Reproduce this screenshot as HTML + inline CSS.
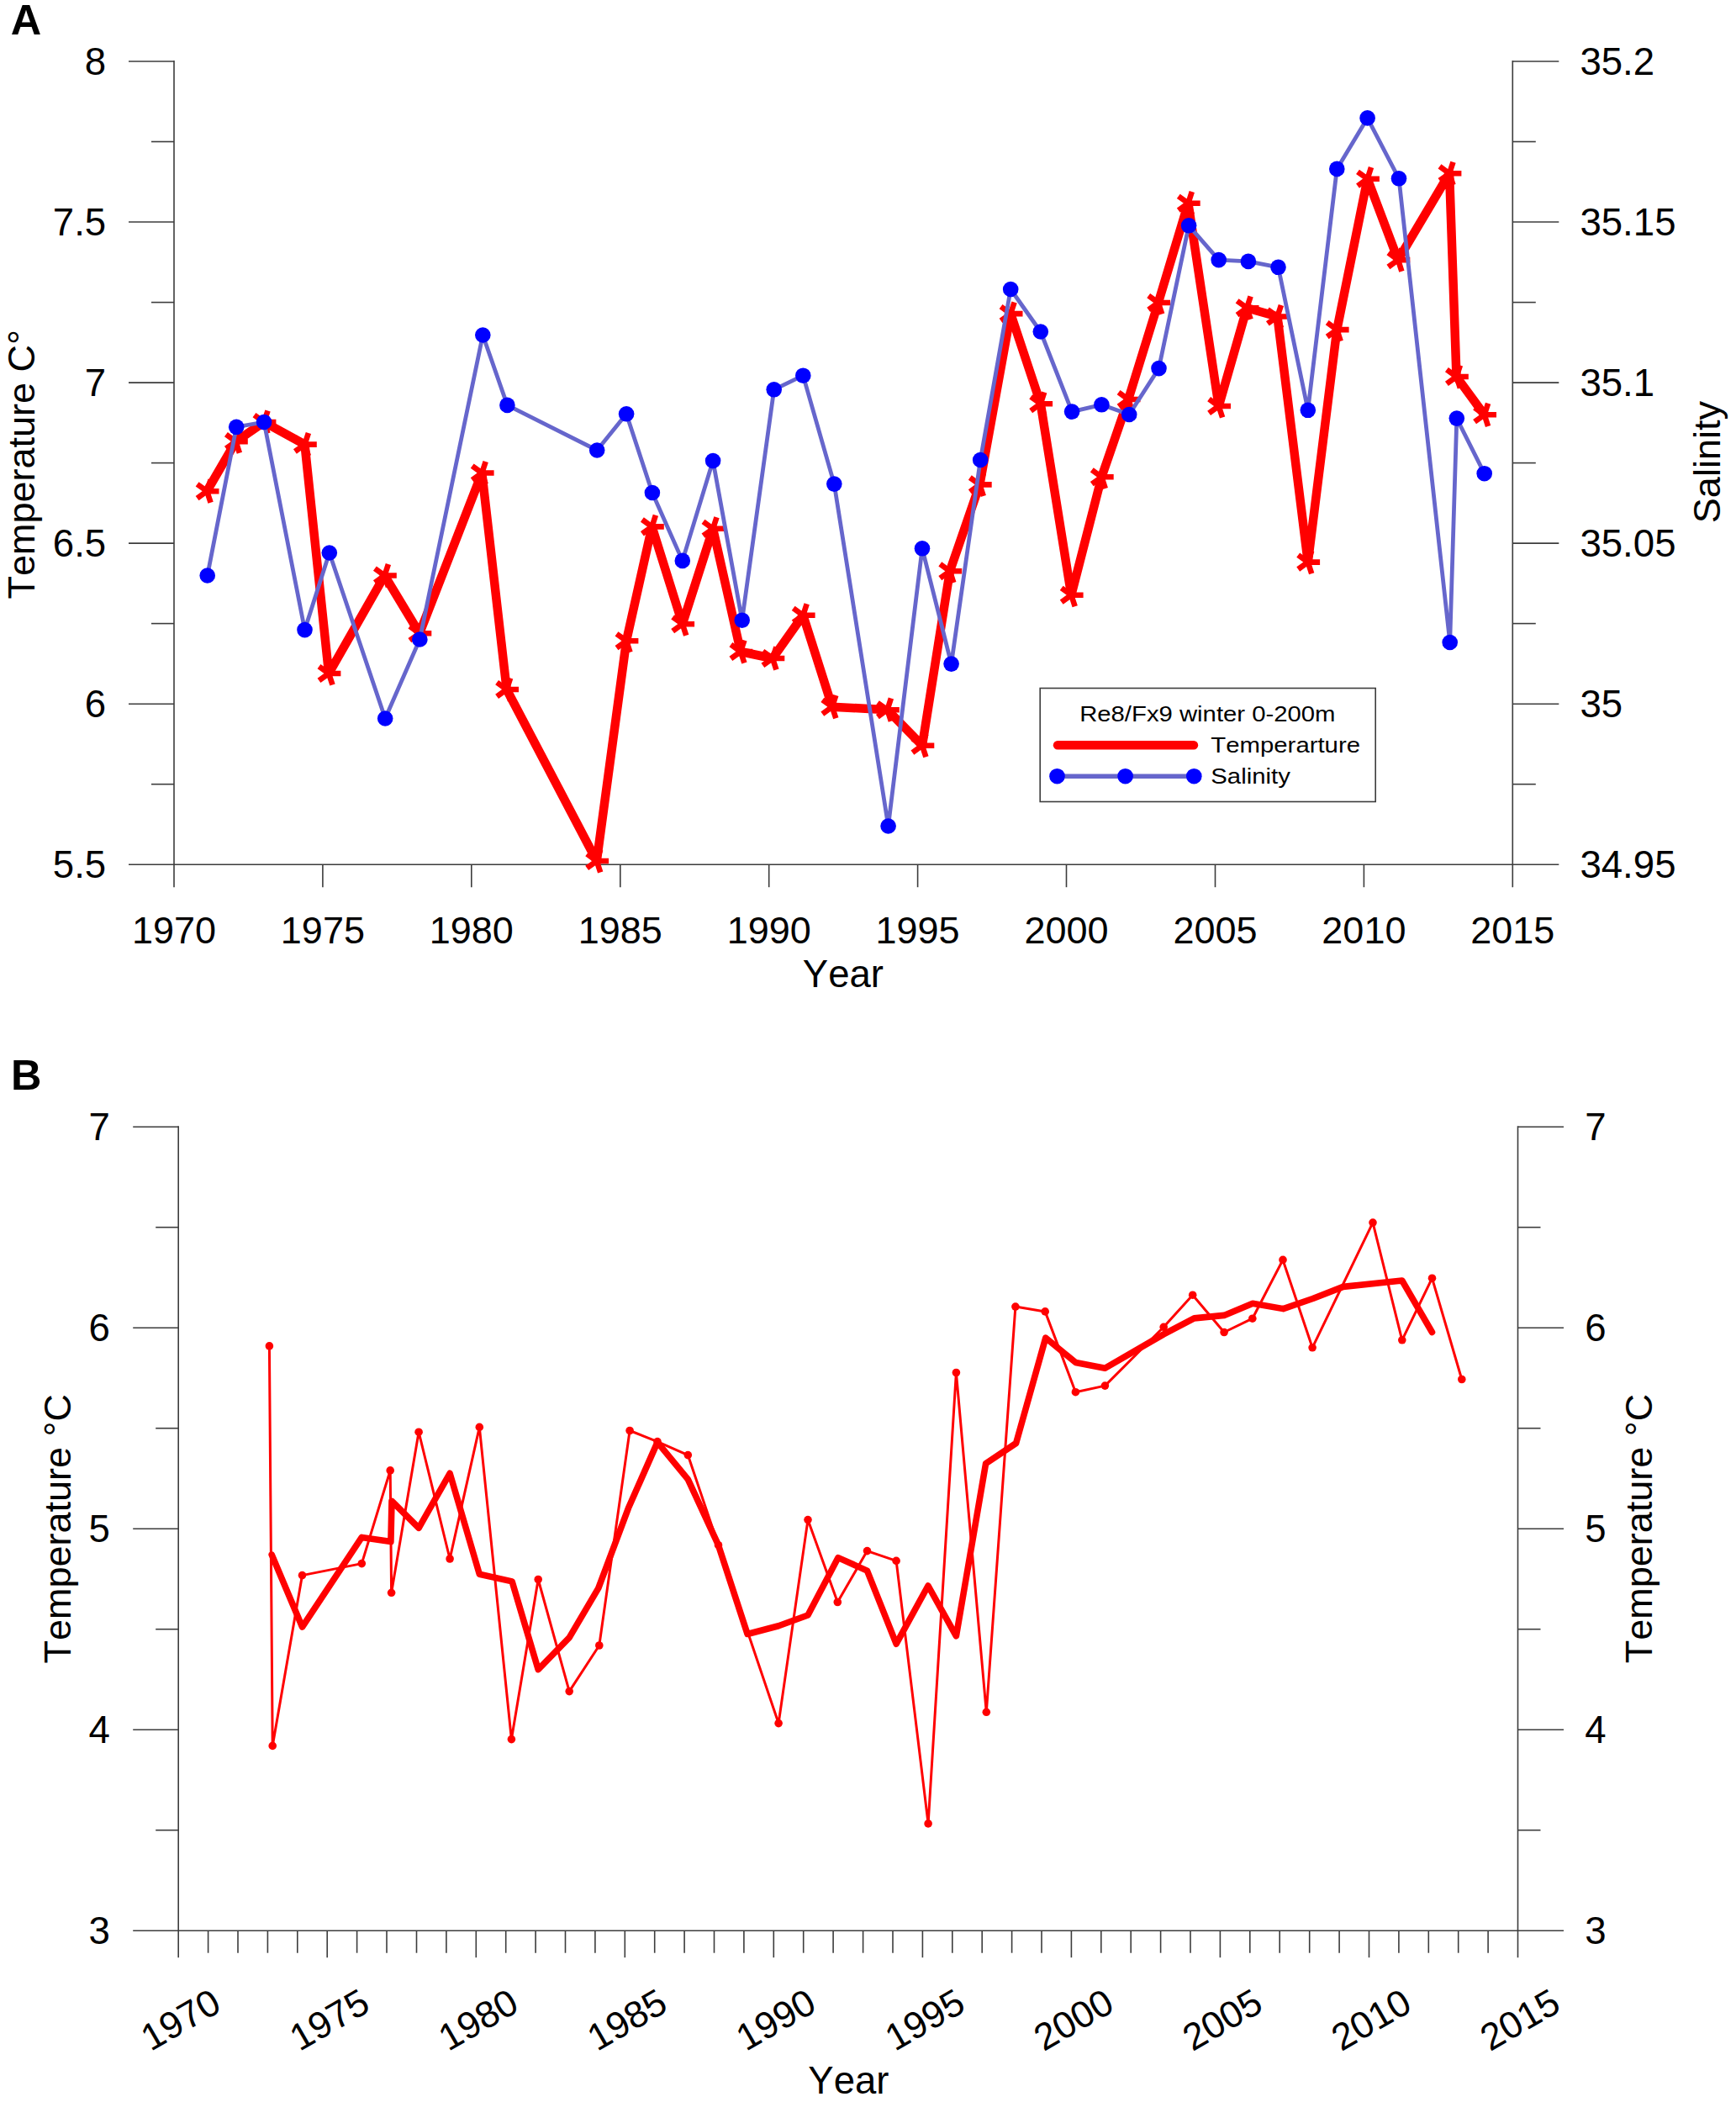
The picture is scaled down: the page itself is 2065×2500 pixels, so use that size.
<!DOCTYPE html>
<html><head><meta charset="utf-8"><title>Figure</title>
<style>
html,body{margin:0;padding:0;background:#fff;}
svg{display:block;}
text{font-family:"Liberation Sans", Arial, Helvetica, sans-serif;fill:#000;font-kerning:none;}
</style></head>
<body>
<svg width="2065" height="2500" viewBox="0 0 2065 2500">
<rect width="2065" height="2500" fill="#fff"/>
<line x1="207.0" y1="72.0" x2="207.0" y2="1055.2" stroke="#3c3c3c" stroke-width="1.6" />
<line x1="1799.3" y1="72.0" x2="1799.3" y2="1055.2" stroke="#3c3c3c" stroke-width="1.6" />
<line x1="153.0" y1="1028.2" x2="1854.3" y2="1028.2" stroke="#3c3c3c" stroke-width="1.6" />
<line x1="153.0" y1="73.0" x2="207.0" y2="73.0" stroke="#3c3c3c" stroke-width="1.6" />
<line x1="1799.3" y1="73.0" x2="1854.3" y2="73.0" stroke="#3c3c3c" stroke-width="1.6" />
<line x1="180.0" y1="168.5" x2="207.0" y2="168.5" stroke="#3c3c3c" stroke-width="1.6" />
<line x1="1799.3" y1="168.5" x2="1826.8" y2="168.5" stroke="#3c3c3c" stroke-width="1.6" />
<text x="126.2" y="89.0" font-size="45.6" text-anchor="end" font-weight="normal" >8</text>
<text x="1879.4" y="89.0" font-size="45.6" text-anchor="start" font-weight="normal" >35.2</text>
<line x1="153.0" y1="264.0" x2="207.0" y2="264.0" stroke="#3c3c3c" stroke-width="1.6" />
<line x1="1799.3" y1="264.0" x2="1854.3" y2="264.0" stroke="#3c3c3c" stroke-width="1.6" />
<line x1="180.0" y1="359.6" x2="207.0" y2="359.6" stroke="#3c3c3c" stroke-width="1.6" />
<line x1="1799.3" y1="359.6" x2="1826.8" y2="359.6" stroke="#3c3c3c" stroke-width="1.6" />
<text x="126.2" y="280.0" font-size="45.6" text-anchor="end" font-weight="normal" >7.5</text>
<text x="1879.4" y="280.0" font-size="45.6" text-anchor="start" font-weight="normal" >35.15</text>
<line x1="153.0" y1="455.1" x2="207.0" y2="455.1" stroke="#3c3c3c" stroke-width="1.6" />
<line x1="1799.3" y1="455.1" x2="1854.3" y2="455.1" stroke="#3c3c3c" stroke-width="1.6" />
<line x1="180.0" y1="550.6" x2="207.0" y2="550.6" stroke="#3c3c3c" stroke-width="1.6" />
<line x1="1799.3" y1="550.6" x2="1826.8" y2="550.6" stroke="#3c3c3c" stroke-width="1.6" />
<text x="126.2" y="471.1" font-size="45.6" text-anchor="end" font-weight="normal" >7</text>
<text x="1879.4" y="471.1" font-size="45.6" text-anchor="start" font-weight="normal" >35.1</text>
<line x1="153.0" y1="646.1" x2="207.0" y2="646.1" stroke="#3c3c3c" stroke-width="1.6" />
<line x1="1799.3" y1="646.1" x2="1854.3" y2="646.1" stroke="#3c3c3c" stroke-width="1.6" />
<line x1="180.0" y1="741.6" x2="207.0" y2="741.6" stroke="#3c3c3c" stroke-width="1.6" />
<line x1="1799.3" y1="741.6" x2="1826.8" y2="741.6" stroke="#3c3c3c" stroke-width="1.6" />
<text x="126.2" y="662.1" font-size="45.6" text-anchor="end" font-weight="normal" >6.5</text>
<text x="1879.4" y="662.1" font-size="45.6" text-anchor="start" font-weight="normal" >35.05</text>
<line x1="153.0" y1="837.2" x2="207.0" y2="837.2" stroke="#3c3c3c" stroke-width="1.6" />
<line x1="1799.3" y1="837.2" x2="1854.3" y2="837.2" stroke="#3c3c3c" stroke-width="1.6" />
<line x1="180.0" y1="932.7" x2="207.0" y2="932.7" stroke="#3c3c3c" stroke-width="1.6" />
<line x1="1799.3" y1="932.7" x2="1826.8" y2="932.7" stroke="#3c3c3c" stroke-width="1.6" />
<text x="126.2" y="853.2" font-size="45.6" text-anchor="end" font-weight="normal" >6</text>
<text x="1879.4" y="853.2" font-size="45.6" text-anchor="start" font-weight="normal" >35</text>
<text x="126.2" y="1044.2" font-size="45.6" text-anchor="end" font-weight="normal" >5.5</text>
<text x="1879.4" y="1044.2" font-size="45.6" text-anchor="start" font-weight="normal" >34.95</text>
<text x="207.0" y="1122.3" font-size="45" text-anchor="middle" font-weight="normal" >1970</text>
<line x1="383.9" y1="1028.2" x2="383.9" y2="1055.2" stroke="#3c3c3c" stroke-width="1.6" />
<text x="383.9" y="1122.3" font-size="45" text-anchor="middle" font-weight="normal" >1975</text>
<line x1="560.8" y1="1028.2" x2="560.8" y2="1055.2" stroke="#3c3c3c" stroke-width="1.6" />
<text x="560.8" y="1122.3" font-size="45" text-anchor="middle" font-weight="normal" >1980</text>
<line x1="737.8" y1="1028.2" x2="737.8" y2="1055.2" stroke="#3c3c3c" stroke-width="1.6" />
<text x="737.8" y="1122.3" font-size="45" text-anchor="middle" font-weight="normal" >1985</text>
<line x1="914.7" y1="1028.2" x2="914.7" y2="1055.2" stroke="#3c3c3c" stroke-width="1.6" />
<text x="914.7" y="1122.3" font-size="45" text-anchor="middle" font-weight="normal" >1990</text>
<line x1="1091.6" y1="1028.2" x2="1091.6" y2="1055.2" stroke="#3c3c3c" stroke-width="1.6" />
<text x="1091.6" y="1122.3" font-size="45" text-anchor="middle" font-weight="normal" >1995</text>
<line x1="1268.5" y1="1028.2" x2="1268.5" y2="1055.2" stroke="#3c3c3c" stroke-width="1.6" />
<text x="1268.5" y="1122.3" font-size="45" text-anchor="middle" font-weight="normal" >2000</text>
<line x1="1445.5" y1="1028.2" x2="1445.5" y2="1055.2" stroke="#3c3c3c" stroke-width="1.6" />
<text x="1445.5" y="1122.3" font-size="45" text-anchor="middle" font-weight="normal" >2005</text>
<line x1="1622.4" y1="1028.2" x2="1622.4" y2="1055.2" stroke="#3c3c3c" stroke-width="1.6" />
<text x="1622.4" y="1122.3" font-size="45" text-anchor="middle" font-weight="normal" >2010</text>
<text x="1799.3" y="1122.3" font-size="45" text-anchor="middle" font-weight="normal" >2015</text>
<text x="1002.9" y="1173.6" font-size="45.5" text-anchor="middle" font-weight="normal" >Year</text>
<text x="41.0" y="552.3" font-size="45" text-anchor="middle" font-weight="normal" transform="rotate(-90 41.0 552.3)" >Temperature C°</text>
<text x="2046.5" y="549.6" font-size="45" text-anchor="middle" font-weight="normal" transform="rotate(-90 2046.5 549.6)" >Salinity</text>
<text x="12.7" y="41.3" font-size="50.5" text-anchor="start" font-weight="bold" >A</text>
<polyline points="246.2,584.2 280.5,525.1 314.1,502.0 362.5,528.6 391.1,801.0 457.5,684.5 499.0,753.3 573.3,562.5 602.7,820.0 709.8,1024.0 745.1,762.2 775.5,626.4 811.8,742.2 848.1,628.8 881.0,775.0 919.0,783.0 955.3,731.8 989.9,840.7 1055.5,844.2 1097.0,886.7 1129.9,679.3 1165.4,576.4 1202.2,373.1 1237.8,480.2 1274.3,707.7 1310.4,567.3 1342.2,475.0 1377.8,360.0 1413.4,241.7 1449.7,483.0 1483.2,366.2 1519.5,376.5 1555.8,668.6 1590.3,392.1 1626.6,212.7 1663.0,309.1 1724.1,206.3 1732.5,448.0 1765.7,493.3" fill="none" stroke="#ff0000" stroke-width="10.5" stroke-linejoin="round" stroke-linecap="butt"/>
<path d="M246.2,584.2L260.5,584.2M246.2,584.2L250.6,597.8M246.2,584.2L234.6,592.6M246.2,584.2L234.6,575.8M246.2,584.2L250.6,570.6" stroke="#ff0000" stroke-width="6.6" fill="none"/>
<path d="M280.5,525.1L294.8,525.1M280.5,525.1L284.9,538.7M280.5,525.1L268.9,533.5M280.5,525.1L268.9,516.7M280.5,525.1L284.9,511.5" stroke="#ff0000" stroke-width="6.6" fill="none"/>
<path d="M314.1,502.0L328.4,502.0M314.1,502.0L318.5,515.6M314.1,502.0L302.5,510.4M314.1,502.0L302.5,493.6M314.1,502.0L318.5,488.4" stroke="#ff0000" stroke-width="6.6" fill="none"/>
<path d="M362.5,528.6L376.8,528.6M362.5,528.6L366.9,542.2M362.5,528.6L350.9,537.0M362.5,528.6L350.9,520.2M362.5,528.6L366.9,515.0" stroke="#ff0000" stroke-width="6.6" fill="none"/>
<path d="M391.1,801.0L405.4,801.0M391.1,801.0L395.5,814.6M391.1,801.0L379.5,809.4M391.1,801.0L379.5,792.6M391.1,801.0L395.5,787.4" stroke="#ff0000" stroke-width="6.6" fill="none"/>
<path d="M457.5,684.5L471.8,684.5M457.5,684.5L461.9,698.1M457.5,684.5L445.9,692.9M457.5,684.5L445.9,676.1M457.5,684.5L461.9,670.9" stroke="#ff0000" stroke-width="6.6" fill="none"/>
<path d="M499.0,753.3L513.3,753.3M499.0,753.3L503.4,766.9M499.0,753.3L487.4,761.7M499.0,753.3L487.4,744.9M499.0,753.3L503.4,739.7" stroke="#ff0000" stroke-width="6.6" fill="none"/>
<path d="M573.3,562.5L587.6,562.5M573.3,562.5L577.7,576.1M573.3,562.5L561.7,570.9M573.3,562.5L561.7,554.1M573.3,562.5L577.7,548.9" stroke="#ff0000" stroke-width="6.6" fill="none"/>
<path d="M602.7,820.0L617.0,820.0M602.7,820.0L607.1,833.6M602.7,820.0L591.1,828.4M602.7,820.0L591.1,811.6M602.7,820.0L607.1,806.4" stroke="#ff0000" stroke-width="6.6" fill="none"/>
<path d="M709.8,1024.0L724.1,1024.0M709.8,1024.0L714.2,1037.6M709.8,1024.0L698.2,1032.4M709.8,1024.0L698.2,1015.6M709.8,1024.0L714.2,1010.4" stroke="#ff0000" stroke-width="6.6" fill="none"/>
<path d="M745.1,762.2L759.4,762.2M745.1,762.2L749.5,775.8M745.1,762.2L733.5,770.6M745.1,762.2L733.5,753.8M745.1,762.2L749.5,748.6" stroke="#ff0000" stroke-width="6.6" fill="none"/>
<path d="M775.5,626.4L789.8,626.4M775.5,626.4L779.9,640.0M775.5,626.4L763.9,634.8M775.5,626.4L763.9,618.0M775.5,626.4L779.9,612.8" stroke="#ff0000" stroke-width="6.6" fill="none"/>
<path d="M811.8,742.2L826.1,742.2M811.8,742.2L816.2,755.8M811.8,742.2L800.2,750.6M811.8,742.2L800.2,733.8M811.8,742.2L816.2,728.6" stroke="#ff0000" stroke-width="6.6" fill="none"/>
<path d="M848.1,628.8L862.4,628.8M848.1,628.8L852.5,642.4M848.1,628.8L836.5,637.2M848.1,628.8L836.5,620.4M848.1,628.8L852.5,615.2" stroke="#ff0000" stroke-width="6.6" fill="none"/>
<path d="M881.0,775.0L895.3,775.0M881.0,775.0L885.4,788.6M881.0,775.0L869.4,783.4M881.0,775.0L869.4,766.6M881.0,775.0L885.4,761.4" stroke="#ff0000" stroke-width="6.6" fill="none"/>
<path d="M919.0,783.0L933.3,783.0M919.0,783.0L923.4,796.6M919.0,783.0L907.4,791.4M919.0,783.0L907.4,774.6M919.0,783.0L923.4,769.4" stroke="#ff0000" stroke-width="6.6" fill="none"/>
<path d="M955.3,731.8L969.6,731.8M955.3,731.8L959.7,745.4M955.3,731.8L943.7,740.2M955.3,731.8L943.7,723.4M955.3,731.8L959.7,718.2" stroke="#ff0000" stroke-width="6.6" fill="none"/>
<path d="M989.9,840.7L1004.2,840.7M989.9,840.7L994.3,854.3M989.9,840.7L978.3,849.1M989.9,840.7L978.3,832.3M989.9,840.7L994.3,827.1" stroke="#ff0000" stroke-width="6.6" fill="none"/>
<path d="M1055.5,844.2L1069.8,844.2M1055.5,844.2L1059.9,857.8M1055.5,844.2L1043.9,852.6M1055.5,844.2L1043.9,835.8M1055.5,844.2L1059.9,830.6" stroke="#ff0000" stroke-width="6.6" fill="none"/>
<path d="M1097.0,886.7L1111.3,886.7M1097.0,886.7L1101.4,900.3M1097.0,886.7L1085.4,895.1M1097.0,886.7L1085.4,878.3M1097.0,886.7L1101.4,873.1" stroke="#ff0000" stroke-width="6.6" fill="none"/>
<path d="M1129.9,679.3L1144.2,679.3M1129.9,679.3L1134.3,692.9M1129.9,679.3L1118.3,687.7M1129.9,679.3L1118.3,670.9M1129.9,679.3L1134.3,665.7" stroke="#ff0000" stroke-width="6.6" fill="none"/>
<path d="M1165.4,576.4L1179.7,576.4M1165.4,576.4L1169.8,590.0M1165.4,576.4L1153.8,584.8M1165.4,576.4L1153.8,568.0M1165.4,576.4L1169.8,562.8" stroke="#ff0000" stroke-width="6.6" fill="none"/>
<path d="M1202.2,373.1L1216.5,373.1M1202.2,373.1L1206.6,386.7M1202.2,373.1L1190.6,381.5M1202.2,373.1L1190.6,364.7M1202.2,373.1L1206.6,359.5" stroke="#ff0000" stroke-width="6.6" fill="none"/>
<path d="M1237.8,480.2L1252.1,480.2M1237.8,480.2L1242.2,493.8M1237.8,480.2L1226.2,488.6M1237.8,480.2L1226.2,471.8M1237.8,480.2L1242.2,466.6" stroke="#ff0000" stroke-width="6.6" fill="none"/>
<path d="M1274.3,707.7L1288.6,707.7M1274.3,707.7L1278.7,721.3M1274.3,707.7L1262.7,716.1M1274.3,707.7L1262.7,699.3M1274.3,707.7L1278.7,694.1" stroke="#ff0000" stroke-width="6.6" fill="none"/>
<path d="M1310.4,567.3L1324.7,567.3M1310.4,567.3L1314.8,580.9M1310.4,567.3L1298.8,575.7M1310.4,567.3L1298.8,558.9M1310.4,567.3L1314.8,553.7" stroke="#ff0000" stroke-width="6.6" fill="none"/>
<path d="M1342.2,475.0L1356.5,475.0M1342.2,475.0L1346.6,488.6M1342.2,475.0L1330.6,483.4M1342.2,475.0L1330.6,466.6M1342.2,475.0L1346.6,461.4" stroke="#ff0000" stroke-width="6.6" fill="none"/>
<path d="M1377.8,360.0L1392.1,360.0M1377.8,360.0L1382.2,373.6M1377.8,360.0L1366.2,368.4M1377.8,360.0L1366.2,351.6M1377.8,360.0L1382.2,346.4" stroke="#ff0000" stroke-width="6.6" fill="none"/>
<path d="M1413.4,241.7L1427.7,241.7M1413.4,241.7L1417.8,255.3M1413.4,241.7L1401.8,250.1M1413.4,241.7L1401.8,233.3M1413.4,241.7L1417.8,228.1" stroke="#ff0000" stroke-width="6.6" fill="none"/>
<path d="M1449.7,483.0L1464.0,483.0M1449.7,483.0L1454.1,496.6M1449.7,483.0L1438.1,491.4M1449.7,483.0L1438.1,474.6M1449.7,483.0L1454.1,469.4" stroke="#ff0000" stroke-width="6.6" fill="none"/>
<path d="M1483.2,366.2L1497.5,366.2M1483.2,366.2L1487.6,379.8M1483.2,366.2L1471.6,374.6M1483.2,366.2L1471.6,357.8M1483.2,366.2L1487.6,352.6" stroke="#ff0000" stroke-width="6.6" fill="none"/>
<path d="M1519.5,376.5L1533.8,376.5M1519.5,376.5L1523.9,390.1M1519.5,376.5L1507.9,384.9M1519.5,376.5L1507.9,368.1M1519.5,376.5L1523.9,362.9" stroke="#ff0000" stroke-width="6.6" fill="none"/>
<path d="M1555.8,668.6L1570.1,668.6M1555.8,668.6L1560.2,682.2M1555.8,668.6L1544.2,677.0M1555.8,668.6L1544.2,660.2M1555.8,668.6L1560.2,655.0" stroke="#ff0000" stroke-width="6.6" fill="none"/>
<path d="M1590.3,392.1L1604.6,392.1M1590.3,392.1L1594.7,405.7M1590.3,392.1L1578.7,400.5M1590.3,392.1L1578.7,383.7M1590.3,392.1L1594.7,378.5" stroke="#ff0000" stroke-width="6.6" fill="none"/>
<path d="M1626.6,212.7L1640.9,212.7M1626.6,212.7L1631.0,226.3M1626.6,212.7L1615.0,221.1M1626.6,212.7L1615.0,204.3M1626.6,212.7L1631.0,199.1" stroke="#ff0000" stroke-width="6.6" fill="none"/>
<path d="M1663.0,309.1L1677.3,309.1M1663.0,309.1L1667.4,322.7M1663.0,309.1L1651.4,317.5M1663.0,309.1L1651.4,300.7M1663.0,309.1L1667.4,295.5" stroke="#ff0000" stroke-width="6.6" fill="none"/>
<path d="M1724.1,206.3L1738.4,206.3M1724.1,206.3L1728.5,219.9M1724.1,206.3L1712.5,214.7M1724.1,206.3L1712.5,197.9M1724.1,206.3L1728.5,192.7" stroke="#ff0000" stroke-width="6.6" fill="none"/>
<path d="M1732.5,448.0L1746.8,448.0M1732.5,448.0L1736.9,461.6M1732.5,448.0L1720.9,456.4M1732.5,448.0L1720.9,439.6M1732.5,448.0L1736.9,434.4" stroke="#ff0000" stroke-width="6.6" fill="none"/>
<path d="M1765.7,493.3L1780.0,493.3M1765.7,493.3L1770.1,506.9M1765.7,493.3L1754.1,501.7M1765.7,493.3L1754.1,484.9M1765.7,493.3L1770.1,479.7" stroke="#ff0000" stroke-width="6.6" fill="none"/>
<polyline points="246.7,684.5 281.2,507.8 314.1,502.0 362.5,749.1 391.8,657.5 458.2,854.5 499.3,760.5 574.3,398.5 603.4,481.9 710.2,535.5 745.1,492.3 775.9,586.0 811.8,666.9 848.1,548.0 882.7,737.7 920.7,463.3 955.3,446.7 992.3,575.6 1056.6,982.5 1097.0,652.3 1131.6,789.6 1166.2,547.0 1202.2,344.0 1237.8,394.5 1275.1,489.6 1310.4,481.3 1343.2,493.0 1378.5,438.1 1414.1,268.3 1449.7,309.1 1484.9,310.9 1520.5,317.8 1555.8,487.8 1590.3,200.9 1626.6,140.4 1664.0,212.3 1724.7,764.0 1732.8,497.6 1765.7,563.2" fill="none" stroke="#6666cc" stroke-width="4.8" stroke-linejoin="round" stroke-linecap="butt"/>
<circle cx="246.7" cy="684.5" r="9.3" fill="#0000ff"/>
<circle cx="281.2" cy="507.8" r="9.3" fill="#0000ff"/>
<circle cx="314.1" cy="502.0" r="9.3" fill="#0000ff"/>
<circle cx="362.5" cy="749.1" r="9.3" fill="#0000ff"/>
<circle cx="391.8" cy="657.5" r="9.3" fill="#0000ff"/>
<circle cx="458.2" cy="854.5" r="9.3" fill="#0000ff"/>
<circle cx="499.3" cy="760.5" r="9.3" fill="#0000ff"/>
<circle cx="574.3" cy="398.5" r="9.3" fill="#0000ff"/>
<circle cx="603.4" cy="481.9" r="9.3" fill="#0000ff"/>
<circle cx="710.2" cy="535.5" r="9.3" fill="#0000ff"/>
<circle cx="745.1" cy="492.3" r="9.3" fill="#0000ff"/>
<circle cx="775.9" cy="586.0" r="9.3" fill="#0000ff"/>
<circle cx="811.8" cy="666.9" r="9.3" fill="#0000ff"/>
<circle cx="848.1" cy="548.0" r="9.3" fill="#0000ff"/>
<circle cx="882.7" cy="737.7" r="9.3" fill="#0000ff"/>
<circle cx="920.7" cy="463.3" r="9.3" fill="#0000ff"/>
<circle cx="955.3" cy="446.7" r="9.3" fill="#0000ff"/>
<circle cx="992.3" cy="575.6" r="9.3" fill="#0000ff"/>
<circle cx="1056.6" cy="982.5" r="9.3" fill="#0000ff"/>
<circle cx="1097.0" cy="652.3" r="9.3" fill="#0000ff"/>
<circle cx="1131.6" cy="789.6" r="9.3" fill="#0000ff"/>
<circle cx="1166.2" cy="547.0" r="9.3" fill="#0000ff"/>
<circle cx="1202.2" cy="344.0" r="9.3" fill="#0000ff"/>
<circle cx="1237.8" cy="394.5" r="9.3" fill="#0000ff"/>
<circle cx="1275.1" cy="489.6" r="9.3" fill="#0000ff"/>
<circle cx="1310.4" cy="481.3" r="9.3" fill="#0000ff"/>
<circle cx="1343.2" cy="493.0" r="9.3" fill="#0000ff"/>
<circle cx="1378.5" cy="438.1" r="9.3" fill="#0000ff"/>
<circle cx="1414.1" cy="268.3" r="9.3" fill="#0000ff"/>
<circle cx="1449.7" cy="309.1" r="9.3" fill="#0000ff"/>
<circle cx="1484.9" cy="310.9" r="9.3" fill="#0000ff"/>
<circle cx="1520.5" cy="317.8" r="9.3" fill="#0000ff"/>
<circle cx="1555.8" cy="487.8" r="9.3" fill="#0000ff"/>
<circle cx="1590.3" cy="200.9" r="9.3" fill="#0000ff"/>
<circle cx="1626.6" cy="140.4" r="9.3" fill="#0000ff"/>
<circle cx="1664.0" cy="212.3" r="9.3" fill="#0000ff"/>
<circle cx="1724.7" cy="764.0" r="9.3" fill="#0000ff"/>
<circle cx="1732.8" cy="497.6" r="9.3" fill="#0000ff"/>
<circle cx="1765.7" cy="563.2" r="9.3" fill="#0000ff"/>
<rect x="1237.2" y="818.5" width="399" height="135" fill="#fff" stroke="#3c3c3c" stroke-width="1.6"/>
<text transform="translate(1436.3 857.8) scale(1.172 1)" font-size="25" text-anchor="middle">Re8/Fx9 winter 0-200m</text>
<line x1="1258.0" y1="886.2" x2="1420.0" y2="886.2" stroke="#ff0000" stroke-width="10.4" stroke-linecap="round"/>
<text transform="translate(1440.3 894.8) scale(1.174 1)" font-size="25">Temperarture</text>
<line x1="1257.5" y1="923.2" x2="1420.3" y2="923.2" stroke="#6666cc" stroke-width="5.5" />
<circle cx="1257.5" cy="923.2" r="9.3" fill="#0000ff"/>
<circle cx="1338.6" cy="923.2" r="9.3" fill="#0000ff"/>
<circle cx="1420.3" cy="923.2" r="9.3" fill="#0000ff"/>
<text transform="translate(1440.3 931.5) scale(1.174 1)" font-size="25">Salinity</text>
<line x1="212.2" y1="1339.2" x2="212.2" y2="2328.2" stroke="#3c3c3c" stroke-width="1.6" />
<line x1="1805.5" y1="1339.2" x2="1805.5" y2="2328.2" stroke="#3c3c3c" stroke-width="1.6" />
<line x1="158.2" y1="2296.2" x2="1860.0" y2="2296.2" stroke="#3c3c3c" stroke-width="1.6" />
<line x1="158.2" y1="1340.2" x2="212.2" y2="1340.2" stroke="#3c3c3c" stroke-width="1.6" />
<line x1="1805.5" y1="1340.2" x2="1860.0" y2="1340.2" stroke="#3c3c3c" stroke-width="1.6" />
<line x1="185.2" y1="1459.7" x2="212.2" y2="1459.7" stroke="#3c3c3c" stroke-width="1.6" />
<line x1="1805.5" y1="1459.7" x2="1832.5" y2="1459.7" stroke="#3c3c3c" stroke-width="1.6" />
<text x="130.8" y="1356.2" font-size="45.6" text-anchor="end" font-weight="normal" >7</text>
<text x="1885.2" y="1356.2" font-size="45.6" text-anchor="start" font-weight="normal" >7</text>
<line x1="158.2" y1="1579.2" x2="212.2" y2="1579.2" stroke="#3c3c3c" stroke-width="1.6" />
<line x1="1805.5" y1="1579.2" x2="1860.0" y2="1579.2" stroke="#3c3c3c" stroke-width="1.6" />
<line x1="185.2" y1="1698.7" x2="212.2" y2="1698.7" stroke="#3c3c3c" stroke-width="1.6" />
<line x1="1805.5" y1="1698.7" x2="1832.5" y2="1698.7" stroke="#3c3c3c" stroke-width="1.6" />
<text x="130.8" y="1595.2" font-size="45.6" text-anchor="end" font-weight="normal" >6</text>
<text x="1885.2" y="1595.2" font-size="45.6" text-anchor="start" font-weight="normal" >6</text>
<line x1="158.2" y1="1818.2" x2="212.2" y2="1818.2" stroke="#3c3c3c" stroke-width="1.6" />
<line x1="1805.5" y1="1818.2" x2="1860.0" y2="1818.2" stroke="#3c3c3c" stroke-width="1.6" />
<line x1="185.2" y1="1937.7" x2="212.2" y2="1937.7" stroke="#3c3c3c" stroke-width="1.6" />
<line x1="1805.5" y1="1937.7" x2="1832.5" y2="1937.7" stroke="#3c3c3c" stroke-width="1.6" />
<text x="130.8" y="1834.2" font-size="45.6" text-anchor="end" font-weight="normal" >5</text>
<text x="1885.2" y="1834.2" font-size="45.6" text-anchor="start" font-weight="normal" >5</text>
<line x1="158.2" y1="2057.2" x2="212.2" y2="2057.2" stroke="#3c3c3c" stroke-width="1.6" />
<line x1="1805.5" y1="2057.2" x2="1860.0" y2="2057.2" stroke="#3c3c3c" stroke-width="1.6" />
<line x1="185.2" y1="2176.7" x2="212.2" y2="2176.7" stroke="#3c3c3c" stroke-width="1.6" />
<line x1="1805.5" y1="2176.7" x2="1832.5" y2="2176.7" stroke="#3c3c3c" stroke-width="1.6" />
<text x="130.8" y="2073.2" font-size="45.6" text-anchor="end" font-weight="normal" >4</text>
<text x="1885.2" y="2073.2" font-size="45.6" text-anchor="start" font-weight="normal" >4</text>
<text x="130.8" y="2312.2" font-size="45.6" text-anchor="end" font-weight="normal" >3</text>
<text x="1885.2" y="2312.2" font-size="45.6" text-anchor="start" font-weight="normal" >3</text>
<text x="214.4" y="2401.5" font-size="44.8" text-anchor="middle" dominant-baseline="central" transform="rotate(-30 214.4 2401.5)">1970</text>
<line x1="247.6" y1="2296.2" x2="247.6" y2="2322.7" stroke="#3c3c3c" stroke-width="1.6" />
<line x1="283.0" y1="2296.2" x2="283.0" y2="2322.7" stroke="#3c3c3c" stroke-width="1.6" />
<line x1="318.4" y1="2296.2" x2="318.4" y2="2322.7" stroke="#3c3c3c" stroke-width="1.6" />
<line x1="353.8" y1="2296.2" x2="353.8" y2="2322.7" stroke="#3c3c3c" stroke-width="1.6" />
<line x1="389.2" y1="2296.2" x2="389.2" y2="2328.2" stroke="#3c3c3c" stroke-width="1.6" />
<text x="391.4" y="2401.5" font-size="44.8" text-anchor="middle" dominant-baseline="central" transform="rotate(-30 391.4 2401.5)">1975</text>
<line x1="424.6" y1="2296.2" x2="424.6" y2="2322.7" stroke="#3c3c3c" stroke-width="1.6" />
<line x1="460.0" y1="2296.2" x2="460.0" y2="2322.7" stroke="#3c3c3c" stroke-width="1.6" />
<line x1="495.5" y1="2296.2" x2="495.5" y2="2322.7" stroke="#3c3c3c" stroke-width="1.6" />
<line x1="530.9" y1="2296.2" x2="530.9" y2="2322.7" stroke="#3c3c3c" stroke-width="1.6" />
<line x1="566.3" y1="2296.2" x2="566.3" y2="2328.2" stroke="#3c3c3c" stroke-width="1.6" />
<text x="568.5" y="2401.5" font-size="44.8" text-anchor="middle" dominant-baseline="central" transform="rotate(-30 568.5 2401.5)">1980</text>
<line x1="601.7" y1="2296.2" x2="601.7" y2="2322.7" stroke="#3c3c3c" stroke-width="1.6" />
<line x1="637.1" y1="2296.2" x2="637.1" y2="2322.7" stroke="#3c3c3c" stroke-width="1.6" />
<line x1="672.5" y1="2296.2" x2="672.5" y2="2322.7" stroke="#3c3c3c" stroke-width="1.6" />
<line x1="707.9" y1="2296.2" x2="707.9" y2="2322.7" stroke="#3c3c3c" stroke-width="1.6" />
<line x1="743.3" y1="2296.2" x2="743.3" y2="2328.2" stroke="#3c3c3c" stroke-width="1.6" />
<text x="745.5" y="2401.5" font-size="44.8" text-anchor="middle" dominant-baseline="central" transform="rotate(-30 745.5 2401.5)">1985</text>
<line x1="778.7" y1="2296.2" x2="778.7" y2="2322.7" stroke="#3c3c3c" stroke-width="1.6" />
<line x1="814.1" y1="2296.2" x2="814.1" y2="2322.7" stroke="#3c3c3c" stroke-width="1.6" />
<line x1="849.5" y1="2296.2" x2="849.5" y2="2322.7" stroke="#3c3c3c" stroke-width="1.6" />
<line x1="884.9" y1="2296.2" x2="884.9" y2="2322.7" stroke="#3c3c3c" stroke-width="1.6" />
<line x1="920.3" y1="2296.2" x2="920.3" y2="2328.2" stroke="#3c3c3c" stroke-width="1.6" />
<text x="922.5" y="2401.5" font-size="44.8" text-anchor="middle" dominant-baseline="central" transform="rotate(-30 922.5 2401.5)">1990</text>
<line x1="955.7" y1="2296.2" x2="955.7" y2="2322.7" stroke="#3c3c3c" stroke-width="1.6" />
<line x1="991.1" y1="2296.2" x2="991.1" y2="2322.7" stroke="#3c3c3c" stroke-width="1.6" />
<line x1="1026.6" y1="2296.2" x2="1026.6" y2="2322.7" stroke="#3c3c3c" stroke-width="1.6" />
<line x1="1062.0" y1="2296.2" x2="1062.0" y2="2322.7" stroke="#3c3c3c" stroke-width="1.6" />
<line x1="1097.4" y1="2296.2" x2="1097.4" y2="2328.2" stroke="#3c3c3c" stroke-width="1.6" />
<text x="1099.6" y="2401.5" font-size="44.8" text-anchor="middle" dominant-baseline="central" transform="rotate(-30 1099.6 2401.5)">1995</text>
<line x1="1132.8" y1="2296.2" x2="1132.8" y2="2322.7" stroke="#3c3c3c" stroke-width="1.6" />
<line x1="1168.2" y1="2296.2" x2="1168.2" y2="2322.7" stroke="#3c3c3c" stroke-width="1.6" />
<line x1="1203.6" y1="2296.2" x2="1203.6" y2="2322.7" stroke="#3c3c3c" stroke-width="1.6" />
<line x1="1239.0" y1="2296.2" x2="1239.0" y2="2322.7" stroke="#3c3c3c" stroke-width="1.6" />
<line x1="1274.4" y1="2296.2" x2="1274.4" y2="2328.2" stroke="#3c3c3c" stroke-width="1.6" />
<text x="1276.6" y="2401.5" font-size="44.8" text-anchor="middle" dominant-baseline="central" transform="rotate(-30 1276.6 2401.5)">2000</text>
<line x1="1309.8" y1="2296.2" x2="1309.8" y2="2322.7" stroke="#3c3c3c" stroke-width="1.6" />
<line x1="1345.2" y1="2296.2" x2="1345.2" y2="2322.7" stroke="#3c3c3c" stroke-width="1.6" />
<line x1="1380.6" y1="2296.2" x2="1380.6" y2="2322.7" stroke="#3c3c3c" stroke-width="1.6" />
<line x1="1416.0" y1="2296.2" x2="1416.0" y2="2322.7" stroke="#3c3c3c" stroke-width="1.6" />
<line x1="1451.4" y1="2296.2" x2="1451.4" y2="2328.2" stroke="#3c3c3c" stroke-width="1.6" />
<text x="1453.6" y="2401.5" font-size="44.8" text-anchor="middle" dominant-baseline="central" transform="rotate(-30 1453.6 2401.5)">2005</text>
<line x1="1486.8" y1="2296.2" x2="1486.8" y2="2322.7" stroke="#3c3c3c" stroke-width="1.6" />
<line x1="1522.2" y1="2296.2" x2="1522.2" y2="2322.7" stroke="#3c3c3c" stroke-width="1.6" />
<line x1="1557.7" y1="2296.2" x2="1557.7" y2="2322.7" stroke="#3c3c3c" stroke-width="1.6" />
<line x1="1593.1" y1="2296.2" x2="1593.1" y2="2322.7" stroke="#3c3c3c" stroke-width="1.6" />
<line x1="1628.5" y1="2296.2" x2="1628.5" y2="2328.2" stroke="#3c3c3c" stroke-width="1.6" />
<text x="1630.7" y="2401.5" font-size="44.8" text-anchor="middle" dominant-baseline="central" transform="rotate(-30 1630.7 2401.5)">2010</text>
<line x1="1663.9" y1="2296.2" x2="1663.9" y2="2322.7" stroke="#3c3c3c" stroke-width="1.6" />
<line x1="1699.3" y1="2296.2" x2="1699.3" y2="2322.7" stroke="#3c3c3c" stroke-width="1.6" />
<line x1="1734.7" y1="2296.2" x2="1734.7" y2="2322.7" stroke="#3c3c3c" stroke-width="1.6" />
<line x1="1770.1" y1="2296.2" x2="1770.1" y2="2322.7" stroke="#3c3c3c" stroke-width="1.6" />
<text x="1807.7" y="2401.5" font-size="44.8" text-anchor="middle" dominant-baseline="central" transform="rotate(-30 1807.7 2401.5)">2015</text>
<text x="1009.4" y="2490.2" font-size="45.5" text-anchor="middle" font-weight="normal" >Year</text>
<text x="83.6" y="1818.3" font-size="45" text-anchor="middle" font-weight="normal" transform="rotate(-90 83.6 1818.3)" >Temperature °C</text>
<text x="1965.2" y="1818.0" font-size="45" text-anchor="middle" font-weight="normal" transform="rotate(-90 1965.2 1818.0)" >Temperature °C</text>
<text x="13.0" y="1296.0" font-size="50.5" text-anchor="start" font-weight="bold" >B</text>
<polyline points="320.4,1600.9 324.2,2076.4 359.5,1873.6 430.3,1859.6 464.2,1748.9 465.6,1894.3 498.1,1703.2 535.1,1854.0 570.3,1697.4 608.4,2068.6 640.2,1878.5 677.2,2011.6 712.8,1957.0 749.1,1701.5 782.0,1714.6 818.3,1730.6 854.5,1837.7 926.1,2049.6 961.0,1807.6 996.3,1905.5 1031.5,1844.6 1066.1,1856.4 1104.1,2168.9 1137.4,1632.5 1173.3,2036.3 1207.9,1554.1 1243.2,1559.9 1279.4,1655.7 1314.4,1648.1 1384.2,1578.3 1418.7,1540.2 1456.1,1584.5 1489.8,1568.2 1526.0,1498.4 1561.1,1602.8 1633.0,1454.1 1667.8,1593.8 1703.5,1520.2 1738.8,1640.5" fill="none" stroke="#ff0000" stroke-width="3.0" stroke-linejoin="round" stroke-linecap="butt"/>
<circle cx="320.4" cy="1600.9" r="4.8" fill="#ff0000"/>
<circle cx="324.2" cy="2076.4" r="4.8" fill="#ff0000"/>
<circle cx="359.5" cy="1873.6" r="4.8" fill="#ff0000"/>
<circle cx="430.3" cy="1859.6" r="4.8" fill="#ff0000"/>
<circle cx="464.2" cy="1748.9" r="4.8" fill="#ff0000"/>
<circle cx="465.6" cy="1894.3" r="4.8" fill="#ff0000"/>
<circle cx="498.1" cy="1703.2" r="4.8" fill="#ff0000"/>
<circle cx="535.1" cy="1854.0" r="4.8" fill="#ff0000"/>
<circle cx="570.3" cy="1697.4" r="4.8" fill="#ff0000"/>
<circle cx="608.4" cy="2068.6" r="4.8" fill="#ff0000"/>
<circle cx="640.2" cy="1878.5" r="4.8" fill="#ff0000"/>
<circle cx="677.2" cy="2011.6" r="4.8" fill="#ff0000"/>
<circle cx="712.8" cy="1957.0" r="4.8" fill="#ff0000"/>
<circle cx="749.1" cy="1701.5" r="4.8" fill="#ff0000"/>
<circle cx="782.0" cy="1714.6" r="4.8" fill="#ff0000"/>
<circle cx="818.3" cy="1730.6" r="4.8" fill="#ff0000"/>
<circle cx="854.5" cy="1837.7" r="4.8" fill="#ff0000"/>
<circle cx="926.1" cy="2049.6" r="4.8" fill="#ff0000"/>
<circle cx="961.0" cy="1807.6" r="4.8" fill="#ff0000"/>
<circle cx="996.3" cy="1905.5" r="4.8" fill="#ff0000"/>
<circle cx="1031.5" cy="1844.6" r="4.8" fill="#ff0000"/>
<circle cx="1066.1" cy="1856.4" r="4.8" fill="#ff0000"/>
<circle cx="1104.1" cy="2168.9" r="4.8" fill="#ff0000"/>
<circle cx="1137.4" cy="1632.5" r="4.8" fill="#ff0000"/>
<circle cx="1173.3" cy="2036.3" r="4.8" fill="#ff0000"/>
<circle cx="1207.9" cy="1554.1" r="4.8" fill="#ff0000"/>
<circle cx="1243.2" cy="1559.9" r="4.8" fill="#ff0000"/>
<circle cx="1279.4" cy="1655.7" r="4.8" fill="#ff0000"/>
<circle cx="1314.4" cy="1648.1" r="4.8" fill="#ff0000"/>
<circle cx="1384.2" cy="1578.3" r="4.8" fill="#ff0000"/>
<circle cx="1418.7" cy="1540.2" r="4.8" fill="#ff0000"/>
<circle cx="1456.1" cy="1584.5" r="4.8" fill="#ff0000"/>
<circle cx="1489.8" cy="1568.2" r="4.8" fill="#ff0000"/>
<circle cx="1526.0" cy="1498.4" r="4.8" fill="#ff0000"/>
<circle cx="1561.1" cy="1602.8" r="4.8" fill="#ff0000"/>
<circle cx="1633.0" cy="1454.1" r="4.8" fill="#ff0000"/>
<circle cx="1667.8" cy="1593.8" r="4.8" fill="#ff0000"/>
<circle cx="1703.5" cy="1520.2" r="4.8" fill="#ff0000"/>
<circle cx="1738.8" cy="1640.5" r="4.8" fill="#ff0000"/>
<polyline points="323.2,1849.1 359.5,1935.1 430.3,1828.4 464.9,1833.6 466.0,1785.2 498.1,1817.3 535.1,1752.3 570.3,1872.2 609.1,1880.9 640.2,1985.7 677.2,1947.6 711.8,1888.9 747.4,1793.8 782.0,1715.4 818.3,1759.3 854.5,1837.7 889.1,1943.5 926.1,1933.8 961.0,1921.0 997.0,1852.6 1031.5,1868.1 1066.1,1955.2 1104.0,1886.0 1137.4,1945.8 1172.6,1740.7 1208.6,1716.5 1243.8,1591.1 1279.4,1620.4 1314.4,1627.3 1384.2,1586.9 1420.5,1567.9 1456.1,1564.4 1490.1,1550.2 1526.4,1556.6 1561.6,1544.5 1597.8,1530.4 1667.8,1523.0 1703.5,1584.5" fill="none" stroke="#ff0000" stroke-width="7.6" stroke-linejoin="round" stroke-linecap="round"/>
</svg>
</body></html>
